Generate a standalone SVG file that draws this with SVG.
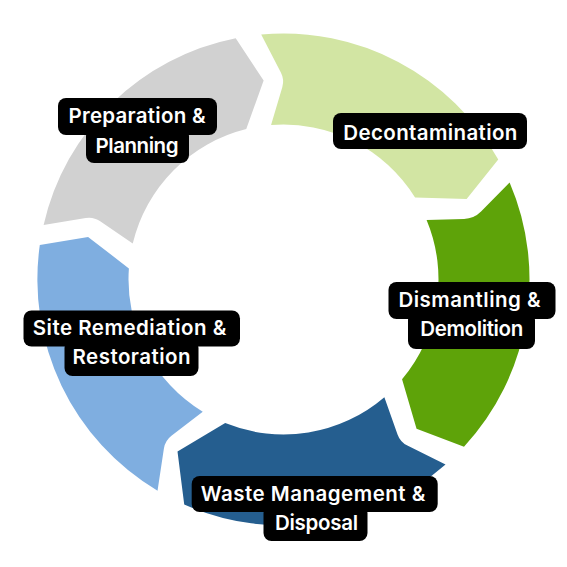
<svg xmlns="http://www.w3.org/2000/svg" width="567" height="567" viewBox="0 0 567 567">
<style>
.lbl{fill:#000000}
.txt{fill:#ffffff;font-family:Inter,"Open Sans","DejaVu Sans",sans-serif;font-weight:600;font-size:20.5px;text-anchor:middle}
</style>
<rect width="567" height="567" fill="#ffffff"/>
<g id="node-preparation">
<path fill="#D1D1D1" d="M43.61,225.0 A246,246 0 0 1 235.72,38.18 L263.64,80.49 L246.26,129.04 A155,155 0 0 0 132.72,243.58 L100.20,221.23 Q93.61,216.70 85.72,218.01 Z"/>
<rect class="lbl" x="58" y="98" width="159" height="37" rx="8"/>
<rect class="lbl" x="86" y="128" width="103" height="35" rx="8"/>
<text class="txt" x="137" y="123" textLength="137">Preparation &amp;</text>
<text class="txt" x="137" y="152.5" textLength="83">Planning</text>
</g>
<g id="node-decontamination">
<path fill="#D2E5A3" d="M261.20,34.51 A246,246 0 0 1 498.24,159.49 L466.63,199.11 L415.07,197.55 A155,155 0 0 0 271.07,125.0 L282.28,87.17 Q284.55,79.5 280.87,72.40 Z"/>
<rect class="lbl" x="333" y="113" width="194" height="36" rx="8"/>
<text class="txt" x="430.3" y="139.5" textLength="174">Decontamination</text>
</g>
<g id="node-dismantling">
<path fill="#5EA309" d="M509.61,182.59 A246,246 0 0 1 464.0,446.64 L416.55,428.83 L402.06,379.34 A155,155 0 0 0 426.60,219.93 L464.04,218.95 Q474.03,218.69 481.05,211.57 Z"/>
<rect class="lbl" x="388.5" y="282" width="167" height="37" rx="8"/>
<rect class="lbl" x="408" y="312" width="127" height="37" rx="8"/>
<text class="txt" x="469.5" y="306.5" textLength="142">Dismantling &amp;</text>
<text class="txt" x="471.7" y="335.5" textLength="103">Demolition</text>
</g>
<g id="node-waste">
<path fill="#255E8F" d="M445.54,464.59 A246,246 0 0 1 184.23,504.58 L177.5,451.5 L225.19,423.11 A155,155 0 0 0 384.37,397.19 L397.54,434.38 Q400.21,441.92 407.37,445.50 Z"/>
<rect class="lbl" x="191.7" y="476" width="246" height="36" rx="8"/>
<rect class="lbl" x="263.5" y="505" width="104" height="36" rx="8"/>
<text class="txt" x="313" y="501" textLength="224.5">Waste Management &amp;</text>
<text class="txt" x="316.5" y="530" textLength="83">Disposal</text>
</g>
<g id="node-remediation">
<path fill="#7FAEE0" d="M157.53,490.80 A246,246 0 0 1 39.8,245.0 L88.09,236.89 L128.90,268.42 A155,155 0 0 0 202.74,411.80 L171.45,435.82 Q165.10,440.69 163.90,448.60 Z"/>
<rect class="lbl" x="23.5" y="310.5" width="216.5" height="36" rx="8"/>
<rect class="lbl" x="64.5" y="340" width="134" height="36" rx="8"/>
<text class="txt" x="129.5" y="335" textLength="193.5">Site Remediation &amp;</text>
<text class="txt" x="131.5" y="364" textLength="118">Restoration</text>
</g>
</svg>
